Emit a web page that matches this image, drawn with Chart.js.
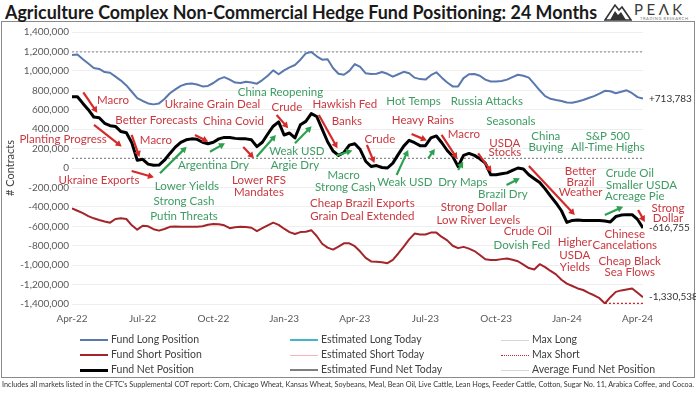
<!DOCTYPE html>
<html><head><meta charset="utf-8">
<script src="https://cdn.jsdelivr.net/npm/chart.js@4.4.1/dist/chart.umd.min.js"></script>
<style>
html,body{margin:0;padding:0;background:#fff;}
body{width:696px;height:393px;position:relative;overflow:hidden;font-family:Lato,'Open Sans',sans-serif;}
#title{position:absolute;left:5px;top:1px;font-weight:700;font-size:19.5px;color:#1a1a1a;white-space:nowrap;transform-origin:0 0;line-height:22px;}
#frame{position:absolute;left:1px;top:21px;width:692px;height:355px;border:1px solid #8a8a8a;}
#c{position:absolute;left:0;top:0;}
.lg{position:absolute;font-size:10.5px;color:#404040;white-space:nowrap;line-height:12px;}
.lg i{display:inline-block;width:28px;vertical-align:middle;margin-right:3px;}
#foot{position:absolute;left:2px;top:380px;font-size:7px;color:#333;white-space:nowrap;transform-origin:0 0;line-height:9px;}
#logo{position:absolute;left:604px;top:1px;width:92px;height:21px;}
#peak{position:absolute;left:30px;top:0px;font-size:15px;letter-spacing:3.5px;color:#3a3a3a;line-height:16px;}
#tr{position:absolute;left:36px;top:15px;font-size:4px;letter-spacing:0.6px;color:#777;line-height:5px;}
</style></head>
<body>
<div id="frame"></div>
<div id="title">Agriculture Complex Non-Commercial Hedge Fund Positioning: 24 Months</div>
<div id="logo">
<svg width="28" height="20" viewBox="0 0 28 20" style="position:absolute;left:0;top:0">
<polygon points="1,19 11,4 15,9 18,6 27,19" fill="none" stroke="#333" stroke-width="1.6"/>
<polygon points="6,19 11,10 14,14 17,11 22,19" fill="#333"/>
</svg>
<div id="peak">PEΛK</div>
<div id="tr">TRADING RESEARCH</div>
</div>
<canvas id="c" width="696" height="393"></canvas>
<div id="legend"></div>
<div id="foot">Includes all markets listed in the CFTC's Supplemental COT report: Corn, Chicago Wheat, Kansas Wheat, Soybeans, Meal, Bean Oil, Live Cattle, Lean Hogs, Feeder Cattle, Cotton, Sugar No. 11, Arabica Coffee, and Cocoa.</div>
<script>
// ---- DATA (thousands of contracts, weekly from Apr-22 to Apr-24) ----
const tickLabels = ['Apr-22','Jul-22','Oct-22','Jan-23','Apr-23','Jul-23','Oct-23','Jan-24','Apr-24'];
const weeksPerTick = 13;

const fundLong = [1163,1168,1120,1075,1030,1020,988,980,940,900,
 850,785,720,690,665,655,665,710,770,810,
 845,865,870,860,840,845,875,915,935,910,
 880,875,888,880,868,905,950,1005,965,1005,
 1035,1060,1115,1180,1195,1150,1115,1120,1030,970,
 960,1000,1070,1040,975,968,970,988,970,940,
 965,990,975,930,915,910,955,985,930,880,
 840,840,925,965,968,950,910,890,890,895,
 910,935,960,950,930,865,800,740,712,700,
 690,675,672,685,700,720,740,765,795,790,
 770,785,800,770,730,713.783];

const fundShort = [-415,-440,-465,-495,-518,-535,-550,-563,-525,-518,
 -525,-590,-635,-595,-600,-630,-645,-628,-606,-602,
 -604,-604,-604,-604,-600,-585,-576,-578,-590,-620,
 -610,-604,-607,-615,-649,-620,-590,-563,-585,-625,
 -660,-679,-660,-656,-640,-700,-780,-820,-840,-810,
 -775,-775,-805,-860,-925,-962,-964,-970,-980,-945,
 -880,-810,-735,-675,-685,-685,-665,-665,-710,-745,
 -800,-825,-812,-830,-855,-895,-940,-947,-947,-938,
 -932,-945,-960,-995,-1030,-1045,-990,-1020,-1060,-1095,
 -1150,-1190,-1215,-1240,-1256,-1285,-1310,-1340,-1395,-1330,
 -1275,-1260,-1250,-1240,-1285,-1330.538];

const fundNet = [734,734,665,600,525,518,460,435,428,375,
 362,260,80,90,40,28,30,80,150,215,
 265,290,300,295,265,250,265,300,315,315,
 305,300,300,290,220,265,350,430,475,340,
 360,310,445,480,560,530,400,270,175,130,
 160,235,250,190,70,15,25,5,0,50,
 140,225,285,260,230,230,310,330,260,180,
 120,15,130,150,130,95,50,-70,-70,-60,
 -50,-25,0,-10,-70,-110,-150,-215,-290,-360,
 -440,-560,-540,-535,-540,-540,-540,-540,-545,-555,
 -500,-485,-480,-480,-530,-616.755];

const maxLongLevel = 1195;
const maxShortLevel = -1395;
const maxShortFromWeek = 98;
const avgNetLevel = 100;

const legendCols = [
 [['Fund Long Position','#5a78ad',2,'solid'],['Fund Short Position','#a3252a',2,'solid'],['Fund Net Position','#000',3,'solid']],
 [['Estimated Long Today','#45b5c9',2,'solid'],['Estimated Short Today','#f3b5b5',1.5,'solid'],['Estimated Fund Net Today','#7f7f7f',2.5,'solid']],
 [['Max Long','#d6d6d6',1.5,'solid'],['Max Short','#c0282d',1.5,'dotted'],['Average Fund Net Position','#d6d6d6',1.5,'solid']]
];

// annotations: [text, week, value(k), colour]
const notes = [
 ['Macro',7.54,693,'r'],['Better Forecasts',15.53,494,'r'],['Planting Progress',-1.65,295,'r'],['Macro',15.44,288,'r'],
 ['Ukraine Grain Deal',25.83,659,'r'],['China Covid',29.69,484,'r'],['China Reopening',38.33,779,'g'],['Crude',39.52,625,'r'],
 ['Hawkish Fed',50.18,659,'r'],['Banks',50.55,484,'r'],['Crude',56.62,295,'r'],['Hot Temps',62.81,682,'g'],
 ['Russia Attacks',76.29,682,'g'],['Heavy Rains',64.52,487,'r'],['Macro',72.06,350,'r'],['Seasonals',80.7,477,'g'],
 ['USDA',79.6,254,'r'],['Stocks',79.6,157,'r'],['China',87.13,322,'g'],['Buying',87.13,213,'g'],
 ['S&P 500',98.53,322,'g'],['All-Time Highs',98.53,213,'g'],
 ['Ukraine Exports',4.96,-131,'r'],['Lower Yields',21.14,-185,'g'],['Strong Cash',20.59,-343,'g'],['Putin Threats',20.59,-494,'g'],
 ['Argentina Dry',26.01,28,'g'],['Lower RFS',34.38,-131,'r'],['Mandates',34.38,-254,'r'],['Weak USD',41.36,168,'g'],
 ['Argie Dry',40.99,24,'g'],['Macro',49.94,-72,'g'],['Strong Cash',50.28,-203,'g'],
 ['Cheap Brazil Exports',53.4,-363,'r'],['Grain Deal Extended',53.4,-501,'r'],['Weak USD',61.21,-151,'g'],
 ['Dry Maps',71.88,-151,'g'],['Brazil Dry',79.23,-268,'g'],['Strong Dollar',73.9,-405,'r'],['Low River Levels',74.72,-542,'r'],
 ['Crude Oil',83.82,-656,'r'],['Dovish Fed',82.72,-800,'g'],
 ['Better',93.51,-38,'r'],['Brazil',93.51,-151,'r'],['Weather',93.51,-254,'r'],
 ['Crude Oil',102.57,-55,'g'],['Smaller USDA',104.72,-182,'g'],['Acreage Pie',103.49,-288,'g'],
 ['Strong',109.6,-415,'r'],['Dollar',109.6,-518,'r'],['Chinese',101.65,-679,'r'],['Cancelations',101.65,-793,'r'],
 ['Higher',92.46,-769,'r'],['USDA',92.46,-895,'r'],['Yields',92.46,-1022,'r'],
 ['Cheap Black',102.57,-964,'r'],['Sea Flows',102.57,-1078,'r']
];
// arrows: [week1, value1, week2, value2, colour]
const arrows = [
 [2.08,779,4.65,569,'r'],[4.04,443,9.14,221,'r'],[10.97,340,12.41,113,'r'],[10.97,-31,15.07,-96,'r'],
 [22.61,340,25.06,271,'r'],[31.49,216,33.46,100,'r'],[37.63,546,39.76,409,'r'],[45.4,546,48.81,203,'r'],
 [54.23,237,55.61,51,'r'],[62.44,350,65.26,283,'r'],[67.96,340,70.86,93,'r'],[74.69,151,77.15,-41,'r'],
 [84.01,21,92.46,-484,'r'],[104.1,-432,105.33,-556,'r'],
 [16.18,-55,21.08,219,'g'],[25.37,168,28.13,254,'g'],[33.95,116,37.5,340,'g'],[40.99,254,44.06,429,'g'],
 [48.66,129,51.56,180,'g'],[59.69,-72,61.82,185,'g'],[65.5,100,66.73,196,'g'],[71.01,-21,71.93,65,'g'],
 [79.91,-175,82.35,-106,'g'],[97.98,-484,101.34,-398,'g']
];

const textCol = {r:'#c9383f', g:'#3e9c63'};
const arrowCol = {r:'#d42a2a', g:'#2ea150'};

function fit(id, w){ const el=document.getElementById(id); const cw=el.getBoundingClientRect().width; el.style.transform='scaleX('+(w/cw)+')'; }
fit('title', 592); fit('foot', 692);

const lg = document.getElementById('legend');
const colX = [80, 290, 501], rowY = [339, 354, 369];
legendCols.forEach((col,ci)=>col.forEach((it,ri)=>{
  const d=document.createElement('div'); d.className='lg';
  d.style.left=colX[ci]+'px'; d.style.top=(rowY[ri]-6)+'px';
  d.innerHTML='<i style="border-top:'+it[2]+'px '+it[3]+' '+it[1]+'"></i>'+it[0];
  lg.appendChild(d);
}));

const pts = arr => arr.map((v,i)=>({x:i,y:v}));
const fmt = v => { const n=Math.round(v*1000); return (n>0?'+':'')+n.toLocaleString('en-US'); };

const annotate = {
  id:'annotate',
  afterDatasetsDraw(chart){
    const {ctx, scales:{x,y}} = chart;
    ctx.save();
    arrows.forEach(a=>{
      const x1=x.getPixelForValue(a[0]), y1=y.getPixelForValue(a[1]);
      const x2=x.getPixelForValue(a[2]), y2=y.getPixelForValue(a[3]);
      const c=arrowCol[a[4]], ang=Math.atan2(y2-y1,x2-x1), h=6, w=3.4;
      ctx.strokeStyle=c; ctx.fillStyle=c; ctx.lineWidth=2.2; ctx.lineCap='butt';
      ctx.beginPath(); ctx.moveTo(x1,y1); ctx.lineTo(x2-Math.cos(ang)*h*0.8, y2-Math.sin(ang)*h*0.8); ctx.stroke();
      const bx=x2-h*Math.cos(ang), by=y2-h*Math.sin(ang);
      ctx.beginPath(); ctx.moveTo(x2,y2);
      ctx.lineTo(bx+w*Math.sin(ang), by-w*Math.cos(ang));
      ctx.lineTo(bx-w*Math.sin(ang), by+w*Math.cos(ang));
      ctx.closePath(); ctx.fill();
    });
    ctx.font='11.5px Lato'; ctx.textAlign='center'; ctx.textBaseline='middle';
    notes.forEach(n=>{ ctx.fillStyle=textCol[n[3]]; ctx.fillText(n[0], x.getPixelForValue(n[1]), y.getPixelForValue(n[2])); });
    ctx.font='10px Lato'; ctx.textAlign='left'; ctx.fillStyle='#333';
    [fundLong, fundNet, fundShort].forEach(s=>{
      const i=s.length-1;
      ctx.fillText(fmt(s[i]), x.getPixelForValue(i)+6, y.getPixelForValue(s[i]));
    });
    ctx.restore();
  }
};

new Chart(document.getElementById('c'), {
  type:'line',
  data:{ datasets:[
    {label:'Fund Net Position', data:pts(fundNet), borderColor:'#000', borderWidth:3},
    {label:'Fund Long Position', data:pts(fundLong), borderColor:'#5a78ad', borderWidth:2},
    {label:'Fund Short Position', data:pts(fundShort), borderColor:'#a3252a', borderWidth:2},
    {label:'Max Short', data:fundShort.map((v,i)=>({x:i,y:maxShortLevel})).filter(p=>p.x>=maxShortFromWeek), borderColor:'#c0282d', borderWidth:1.3, borderDash:[2,2]},
    {label:'Max Long', data:fundLong.map((v,i)=>({x:i,y:maxLongLevel})), borderColor:'#9a9a9a', borderWidth:1.3, borderDash:[2,2]},
    {label:'Average Fund Net Position', data:fundNet.map((v,i)=>({x:i,y:avgNetLevel})), borderColor:'#8a8a8a', borderWidth:1.3, borderDash:[2,2]}
  ]},
  options:{
    responsive:false, animation:false, devicePixelRatio:1,
    elements:{ point:{radius:0}, line:{tension:0, borderJoinStyle:'round', fill:false} },
    layout:{ padding:{left:0, right:53, top:32, bottom:59} },
    plugins:{ legend:{display:false}, tooltip:{enabled:false} },
    scales:{
      x:{ type:'linear', min:0, max:fundLong.length-1,
          grid:{display:false}, border:{display:false},
          afterBuildTicks: s=>{ s.ticks = tickLabels.map((l,i)=>({value:i*weeksPerTick})); },
          afterFit: s=>{ s.height=30; },
          ticks:{ autoSkip:false, maxRotation:0, minRotation:0, padding:1, color:'#595959', font:{family:'Lato', size:10},
                  callback:(v)=>tickLabels[Math.round(v/weeksPerTick)] } },
      y:{ min:-1400, max:1400,
          grid:{color:'#eeeeee', drawTicks:false}, border:{display:false},
          afterFit: s=>{ s.width=72; },
          title:{display:true, text:'# Contracts', color:'#404040', font:{family:'Lato', size:11}},
          ticks:{ stepSize:200, padding:3, color:'#595959', font:{family:'Lato', size:10},
                  callback:v=>(v*1000).toLocaleString('en-US') } }
    }
  },
  plugins:[annotate]
});
</script>
</body></html>
